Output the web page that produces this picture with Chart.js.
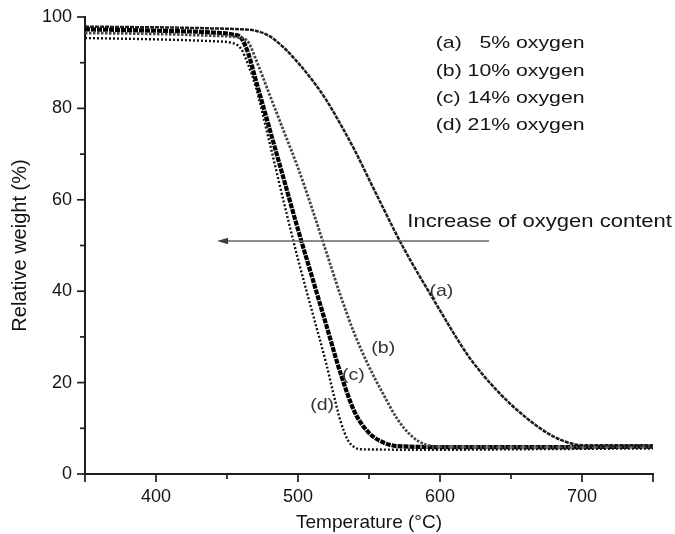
<!DOCTYPE html>
<html>
<head>
<meta charset="utf-8">
<script src="https://cdn.jsdelivr.net/npm/chart.js@4/dist/chart.umd.min.js"></script>
<style>
  html, body { margin: 0; padding: 0; background: #ffffff; }
  #wrap { width: 675px; height: 534px; position: relative; }
</style>
</head>
<body>
<div id="wrap"><canvas id="tga"></canvas></div>
<script>
// Thermogravimetric curves: relative weight (%) vs temperature (°C)
const tempA   = [350, 380, 410, 440, 460, 470, 480, 490, 500, 510, 520, 530, 540, 550, 560, 570, 580, 590, 600, 610, 620, 630, 640, 650, 660, 670, 680, 690, 700, 720, 750];
const weightA = [97.9, 97.8, 97.7, 97.5, 97.3, 97.0, 95.8, 93.3, 90.0, 86.2, 81.8, 76.5, 70.8, 64.5, 58.2, 52.0, 46.3, 41.0, 35.8, 30.6, 25.8, 21.8, 18.3, 15.2, 12.5, 10.1, 8.2, 6.9, 6.3, 6.3, 6.3];

const tempB   = [350, 400, 440, 460, 465, 470, 480, 490, 500, 510, 520, 530, 540, 550, 560, 570, 580, 590, 600, 650, 700, 750];
const weightB = [96.5, 96.3, 95.9, 95.4, 94.5, 91.0, 83.0, 75.0, 67.0, 58.0, 48.5, 39.0, 30.5, 23.5, 17.5, 12.0, 8.3, 6.4, 6.0, 5.9, 5.9, 6.0];

const tempC   = [350, 400, 440, 455, 460, 465, 470, 480, 490, 500, 510, 520, 530, 540, 550, 560, 570, 600, 650, 700, 750];
const weightC = [97.3, 97.0, 96.6, 96.1, 95.4, 92.0, 86.5, 75.5, 64.5, 53.5, 43.0, 32.5, 22.0, 13.5, 9.0, 6.9, 6.1, 5.9, 5.9, 5.9, 6.0];

const tempD   = [350, 400, 440, 455, 460, 465, 470, 480, 490, 500, 510, 520, 525, 530, 535, 540, 545, 600, 650, 700, 750];
const weightD = [95.4, 95.1, 94.7, 94.2, 93.0, 89.5, 85.0, 72.5, 59.5, 47.0, 35.5, 24.0, 17.5, 11.5, 7.5, 5.8, 5.4, 5.3, 5.4, 5.5, 5.6];

const seriesTags  = ['(a)', '(b)', '(c)', '(d)'];
const oxygenLevel = ['5%', '10%', '14%', '21%'];

const xTickValues = [400, 500, 600, 700];
const yTickValues = [0, 20, 40, 60, 80, 100];

const toPoints = (xs, ys) => xs.map((x, i) => ({ x: x, y: ys[i] }));

const FONT = "'Liberation Sans', Arial, sans-serif";
const TEXT = '#141414';

// Annotation placement in data coordinates
const notes = {
  legend: { x: 597, y: [94.2, 88.2, 82.2, 76.4], size: 17, stretch: 1.25 },
  arrow: { from: { x: 634.5, y: 51 }, to: { x: 443, y: 51 } },
  arrowText: { x: 577, y: 55.2, size: 19, stretch: 1.16 },
  curveLabels: [
    { x: 601, y: 40.0 },
    { x: 560, y: 27.6 },
    { x: 539, y: 21.7 },
    { x: 517, y: 15.1 }
  ],
  curveLabelSize: 17,
  curveLabelStretch: 1.15
};

function stretchedText(ctx, text, x, y, size, sx, align) {
  ctx.save();
  ctx.font = size + 'px ' + FONT;
  ctx.textBaseline = 'middle';
  ctx.textAlign = 'left';
  const w = ctx.measureText(text).width * sx;
  let left = x;
  if (align === 'center') left = x - w / 2;
  ctx.translate(left, y);
  ctx.scale(sx, 1);
  ctx.fillText(text, 0, 0);
  ctx.restore();
}

const annotationsPlugin = {
  id: 'annotations',
  afterDraw(chart) {
    const ctx = chart.ctx;
    const xs = chart.scales.x, ys = chart.scales.y;
    const area = chart.chartArea;

    // tick marks, drawn outward from the axes
    ctx.save();
    ctx.strokeStyle = '#1e1e1e';
    ctx.lineWidth = 1.7;
    for (let v = 350; v <= 750; v += 50) {
      const px = xs.getPixelForValue(v);
      const len = (v % 100 === 0 || v === 350 || v === 750) ? 8 : 5;
      ctx.beginPath();
      ctx.moveTo(px, area.bottom);
      ctx.lineTo(px, area.bottom + len);
      ctx.stroke();
    }
    for (let v = 0; v <= 100; v += 10) {
      const py = ys.getPixelForValue(v);
      const len = (v % 20 === 0) ? 8 : 5;
      ctx.beginPath();
      ctx.moveTo(area.left, py);
      ctx.lineTo(area.left - len, py);
      ctx.stroke();
    }
    ctx.restore();

    ctx.save();
    ctx.fillStyle = TEXT;

    // legend block
    const lg = notes.legend;
    const lx = xs.getPixelForValue(lg.x);
    ctx.font = lg.size + 'px ' + FONT;
    const tagW = ctx.measureText('(b) ').width * lg.stretch;
    const digitW = ctx.measureText('1').width * lg.stretch;
    seriesTags.forEach((tag, i) => {
      const py = ys.getPixelForValue(lg.y[i]);
      stretchedText(ctx, tag, lx, py, lg.size, lg.stretch, 'left');
      const rest = oxygenLevel[i] + ' oxygen';
      const shift = oxygenLevel[i].length === 2 ? digitW : 0;
      stretchedText(ctx, rest, lx + tagW + shift, py, lg.size, lg.stretch, 'left');
    });

    // arrow showing the shift with oxygen content
    const ax0 = xs.getPixelForValue(notes.arrow.from.x);
    const ax1 = xs.getPixelForValue(notes.arrow.to.x);
    const ay = ys.getPixelForValue(notes.arrow.from.y);
    ctx.strokeStyle = '#666666';
    ctx.lineWidth = 1.6;
    ctx.beginPath();
    ctx.moveTo(ax0, ay);
    ctx.lineTo(ax1 + 8, ay);
    ctx.stroke();
    ctx.fillStyle = '#3c3c3c';
    ctx.beginPath();
    ctx.moveTo(ax1, ay);
    ctx.lineTo(ax1 + 11, ay - 3.2);
    ctx.lineTo(ax1 + 11, ay + 3.2);
    ctx.closePath();
    ctx.fill();

    ctx.fillStyle = TEXT;
    const at = notes.arrowText;
    stretchedText(ctx, 'Increase of oxygen content', xs.getPixelForValue(at.x), ys.getPixelForValue(at.y), at.size, at.stretch, 'left');

    // curve tags
    ctx.fillStyle = '#333333';
    notes.curveLabels.forEach((p, i) => {
      stretchedText(ctx, seriesTags[i], xs.getPixelForValue(p.x), ys.getPixelForValue(p.y), notes.curveLabelSize, notes.curveLabelStretch, 'center');
    });
    ctx.restore();
  }
};

const canvas = document.getElementById('tga');
canvas.width = 675;
canvas.height = 534;

const lineBase = { showLine: true, pointRadius: 0, cubicInterpolationMode: 'monotone' };

new Chart(canvas, {
  type: 'scatter',
  data: {
    datasets: [
      Object.assign({ label: seriesTags[0], data: toPoints(tempA, weightA), borderColor: '#1c1c1c', borderWidth: 2.5, borderDash: [4, 1] }, lineBase),
      Object.assign({ label: seriesTags[1], data: toPoints(tempB, weightB), borderColor: '#454545', borderWidth: 2.8, borderDash: [2.5, 1.5] }, lineBase),
      Object.assign({ label: seriesTags[2], data: toPoints(tempC, weightC), borderColor: '#000000', borderWidth: 4.2, borderDash: [5, 1] }, lineBase),
      Object.assign({ label: seriesTags[3], data: toPoints(tempD, weightD), borderColor: '#111111', borderWidth: 2.4, borderDash: [2, 2] }, lineBase)
    ]
  },
  options: {
    responsive: false,
    animation: false,
    devicePixelRatio: 1,
    layout: { padding: { left: 0, right: 22, top: 17, bottom: 0 } },
    plugins: { legend: { display: false }, tooltip: { enabled: false } },
    scales: {
      x: {
        type: 'linear',
        min: 350, max: 750,
        afterFit(scale) { scale.height = 60; scale.paddingLeft = 0; scale.paddingRight = 0; },
        afterBuildTicks(scale) { scale.ticks = xTickValues.map(v => ({ value: v })); },
        grid: { display: false, drawTicks: false },
        border: { display: true, color: '#1e1e1e', width: 2 },
        ticks: { color: TEXT, font: { family: FONT, size: 18 }, padding: 12, maxRotation: 0, autoSkip: false },
        title: { display: true, text: 'Temperature (°C)', color: TEXT, font: { family: FONT, size: 19 }, padding: { top: 0, bottom: 0 } }
      },
      y: {
        type: 'linear',
        min: 0, max: 100,
        afterFit(scale) { scale.width = 85; scale.paddingTop = 0; scale.paddingBottom = 0; },
        afterBuildTicks(scale) { scale.ticks = yTickValues.map(v => ({ value: v })); },
        grid: { display: false, drawTicks: false },
        border: { display: true, color: '#1e1e1e', width: 2 },
        ticks: { color: TEXT, font: { family: FONT, size: 18 }, padding: 13, autoSkip: false },
        title: { display: true, text: 'Relative weight (%)', color: TEXT, font: { family: FONT, size: 20 }, padding: { top: 8, bottom: 0 } }
      }
    }
  },
  plugins: [annotationsPlugin]
});
</script>
</body>
</html>
